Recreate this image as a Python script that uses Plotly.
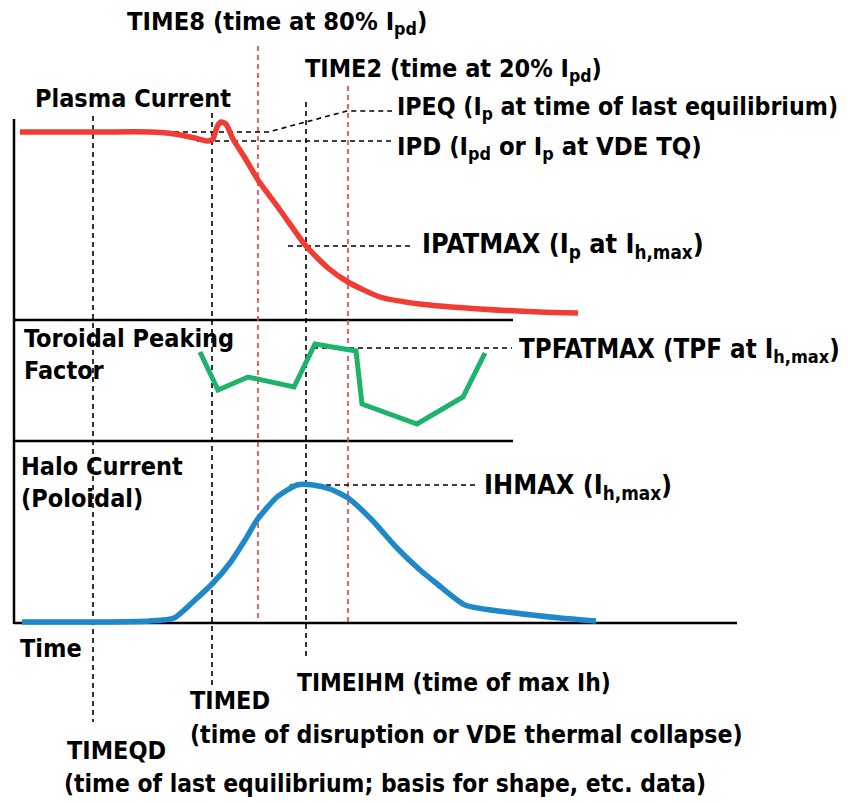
import plotly.graph_objects as go

# ---- data (schematic, in drawing units: time -> x, signal -> y downwards) ----
ip_t = [20, 100, 150, 175, 195, 208, 213, 217, 221, 226, 233, 245, 258, 280, 306, 328, 348, 380, 420, 480, 540, 578]
ip_v = [132, 132, 132, 134, 138, 141, 139, 127, 122, 124, 139, 158, 180, 210, 246, 268, 282, 297, 304, 309, 312, 313]

tpf_t = [200, 218, 248, 294, 315, 356, 362, 417, 463, 485]
tpf_v = [352, 390, 377, 387, 344, 351, 404, 424, 397, 353]

ih_t = [22, 100, 150, 174, 195, 213, 230, 245, 257, 277, 297, 313, 330, 348, 372, 396, 420, 436, 465, 515, 560, 596]
ih_v = [622, 622, 621, 618, 600, 583, 563, 540, 520, 497, 485, 485, 489, 498, 520, 547, 570, 583, 605, 613, 618, 621]

event_x = [93, 212, 258, 306, 348]
event_top = [116, 113, 46, 102, 86]
event_bottom = [722, 686, 622, 656, 622]
event_color = ["black", "black", "#F03C32", "black", "#F03C32"]

ref_lines = {
    "IPEQ": ([165, 268, 347, 392], [132, 132, 111, 111]),
    "IPD": ([197, 392], [141, 141]),
    "IPATMAX": ([288, 412], [246, 246]),
    "TPFATMAX": ([313, 512], [348, 348]),
    "IHMAX": ([290, 477], [485, 485]),
}

labels = [
    ("TIME8 (time at 80% I<sub>pd</sub>)", 125, 23, 25.3),
    ("TIME2 (time at 20% I<sub>pd</sub>)", 303, 70, 25),
    ("Plasma Current", 33, 98, 25),
    ("IPEQ (I<sub>p</sub> at time of last equilibrium)", 395, 108, 24.7),
    ("IPD (I<sub>pd</sub> or I<sub>p</sub> at VDE TQ)", 395, 147, 25.4),
    ("IPATMAX (I<sub>p</sub> at I<sub>h,max</sub>)", 420, 245, 26.8),
    ("Toroidal Peaking", 22, 338, 25),
    ("Factor", 22, 370, 25),
    ("TPFATMAX (TPF at I<sub>h,max</sub>)", 517, 350, 25.7),
    ("Halo Current", 19, 466, 25),
    ("(Poloidal)", 19, 498, 25),
    ("IHMAX (I<sub>h,max</sub>)", 482, 486, 26.8),
    ("Time", 18, 648, 25),
    ("TIMEIHM (time of max Ih)", 295, 682, 24.3),
    ("TIMED", 188, 700, 25),
    ("(time of disruption or VDE thermal collapse)", 188, 734, 24.6),
    ("TIMEQD", 65, 750, 25),
    ("(time of last equilibrium; basis for shape, etc. data)", 62, 783, 24.4),
]

frame_x = [[14, 14], [14, 737], [14, 513], [14, 513]]
frame_y = [[119, 624], [623, 623], [320, 320], [441, 441]]

FONT = "DejaVu Sans Condensed, Liberation Sans Narrow, Arial Narrow, sans-serif"
PAGE_OFFSET = 8  # default page margin of the html body

fig = go.Figure()

# frame lines
for fx, fy in zip(frame_x, frame_y):
    fig.add_trace(go.Scatter(x=fx, y=fy, mode="lines",
                             line=dict(color="black", width=2.5), hoverinfo="skip"))

# event markers (vertical dashed)
for ex, et, eb, ec in zip(event_x, event_top, event_bottom, event_color):
    fig.add_trace(go.Scatter(x=[ex, ex], y=[et, eb], mode="lines",
                             line=dict(color=ec, width=1.6, dash="5px,4px"), hoverinfo="skip"))

# reference (horizontal dashed)
for name, (rx, ry) in ref_lines.items():
    fig.add_trace(go.Scatter(x=rx, y=ry, mode="lines",
                             line=dict(color="black", width=1.6, dash="5px,4px"), hoverinfo="skip"))

# curves
fig.add_trace(go.Scatter(x=ip_t, y=ip_v, mode="lines", line=dict(color="#F03C32", width=5.5, shape="spline", smoothing=0.6)))
fig.add_trace(go.Scatter(x=tpf_t, y=tpf_v, mode="lines", line=dict(color="#1DB36A", width=5)))
fig.add_trace(go.Scatter(x=ih_t, y=ih_v, mode="lines", line=dict(color="#1E88C8", width=5.5, shape="spline", smoothing=0.6)))

for txt, lx, ly, fs in labels:
    fig.add_annotation(x=lx, y=ly, text=txt, showarrow=False,
                       xanchor="left", yanchor="middle", xref="x", yref="y",
                       font=dict(family=FONT, size=fs, color="black", weight="bold"))

fig.update_layout(
    width=848, height=803,
    margin=dict(l=0, r=0, t=0, b=0),
    paper_bgcolor="white", plot_bgcolor="white",
    showlegend=False,
    xaxis=dict(range=[PAGE_OFFSET, 848 + PAGE_OFFSET], visible=False, fixedrange=True),
    yaxis=dict(range=[803 + PAGE_OFFSET, PAGE_OFFSET], visible=False, fixedrange=True),
)

fig.write_html("out.html")
